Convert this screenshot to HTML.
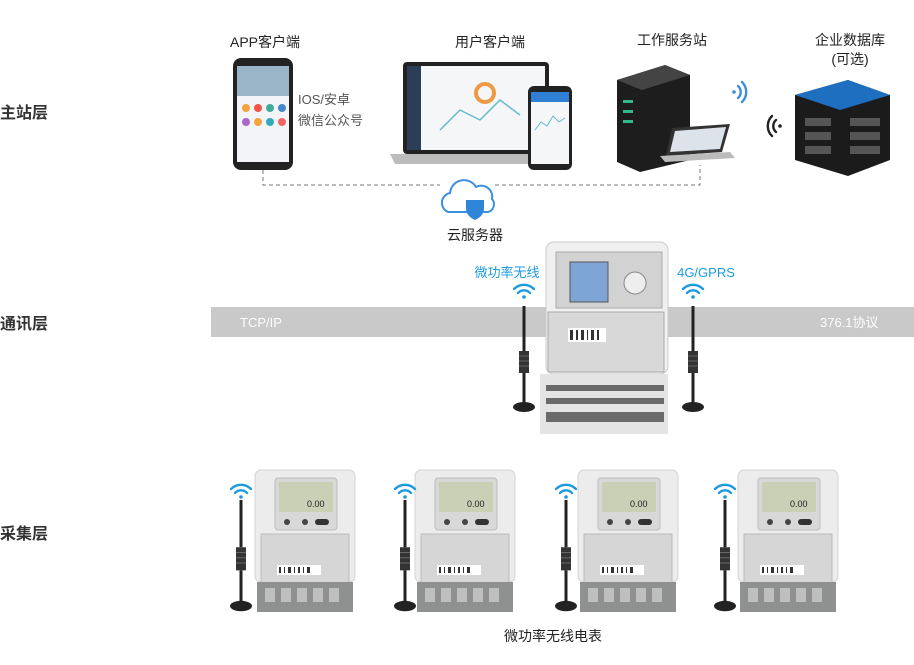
<!DOCTYPE html>
<html><head><meta charset="utf-8"><style>
body{margin:0;width:914px;height:660px;background:#fff;font-family:"Liberation Sans","Noto Sans CJK SC",sans-serif;overflow:hidden}
svg text{font-family:"Liberation Sans","Noto Sans CJK SC",sans-serif}
</style></head><body>
<svg width="914" height="660" xmlns="http://www.w3.org/2000/svg">
<defs>
<g id="wifi" fill="none" stroke-width="2.4" stroke-linecap="round">
<path d="M-10,-4 A14,14 0 0 1 10,-4"/><path d="M-6,0 A8,8 0 0 1 6,0"/><circle cx="0" cy="4" r="1.8" fill="currentColor" stroke="none"/>
</g>
<g id="ant">
<rect x="-1.5" y="0" width="3" height="45" fill="#222"/>
<rect x="-5" y="45" width="10" height="22" fill="#333"/>
<g stroke="#666" stroke-width="1"><line x1="-5" y1="50" x2="5" y2="50"/><line x1="-5" y1="55" x2="5" y2="55"/><line x1="-5" y1="60" x2="5" y2="60"/></g>
<rect x="-1.5" y="67" width="3" height="30" fill="#222"/>
<ellipse cx="0" cy="101" rx="11" ry="5" fill="#222"/>
</g>
<g id="meter">
<rect x="0" y="0" width="100" height="112" rx="6" fill="#ececec" stroke="#d4d4d4"/>
<rect x="20" y="8" width="62" height="52" rx="3" fill="#d8d8d8" stroke="#bbb"/>
<rect x="24" y="12" width="54" height="30" fill="#c9d0b5"/>
<text x="52" y="37" font-size="9" fill="#222">0.00</text>
<circle cx="32" cy="52" r="3" fill="#444"/><circle cx="50" cy="52" r="3" fill="#444"/><rect x="60" y="49" width="14" height="6" rx="3" fill="#333"/>
<rect x="6" y="64" width="88" height="50" fill="#d6d6d6" stroke="#bbb"/>
<rect x="22" y="95" width="44" height="10" fill="#fff"/>
<g fill="#333"><rect x="24" y="97" width="2" height="6"/><rect x="29" y="97" width="1" height="6"/><rect x="33" y="97" width="3" height="6"/><rect x="39" y="97" width="1" height="6"/><rect x="43" y="97" width="2" height="6"/><rect x="48" y="97" width="1" height="6"/><rect x="52" y="97" width="3" height="6"/></g>
<rect x="2" y="112" width="96" height="30" fill="#8f9191"/>
<g fill="#bfbfbf"><rect x="10" y="118" width="10" height="14"/><rect x="26" y="118" width="10" height="14"/><rect x="42" y="118" width="10" height="14"/><rect x="58" y="118" width="10" height="14"/><rect x="74" y="118" width="10" height="14"/></g>
</g>
</defs>
<!-- layer labels -->
<text x="0" y="118" font-size="16" font-weight="bold" fill="#333">主站层</text>
<text x="0" y="329" font-size="16" font-weight="bold" fill="#333">通讯层</text>
<text x="0" y="539" font-size="16" font-weight="bold" fill="#333">采集层</text>
<!-- band -->
<rect x="211" y="307" width="703" height="30" fill="#c9c9c9"/>
<text x="240" y="327" font-size="13" fill="#fff">TCP/IP</text>
<text x="820" y="327" font-size="13" fill="#fff">376.1协议</text>
<!-- top titles -->
<text x="265" y="47" font-size="14" fill="#222" text-anchor="middle">APP客户端</text>
<text x="490" y="47" font-size="14" fill="#222" text-anchor="middle">用户客户端</text>
<text x="672" y="45" font-size="14" fill="#222" text-anchor="middle">工作服务站</text>
<text x="850" y="45" font-size="14" fill="#222" text-anchor="middle">企业数据库</text>
<text x="850" y="64" font-size="14" fill="#222" text-anchor="middle">(可选)</text>
<text x="298" y="104" font-size="13" fill="#555">IOS/安卓</text>
<text x="298" y="125" font-size="13" fill="#555">微信公众号</text>
<!-- dashed -->
<path d="M263,170 V185 H440 M495,185 H700 V165" fill="none" stroke="#777" stroke-dasharray="4,3"/>
<!-- phone -->
<rect x="233" y="58" width="60" height="112" rx="8" fill="#222"/>
<rect x="237" y="66" width="52" height="96" fill="#f2f4f7"/>
<rect x="237" y="66" width="52" height="30" fill="#9ab4c8"/>
<g fill="#f4a23c"><circle cx="246" cy="108" r="4"/><circle cx="258" cy="108" r="4" fill="#e54"/><circle cx="270" cy="108" r="4" fill="#4a9"/><circle cx="282" cy="108" r="4" fill="#48c"/><circle cx="246" cy="122" r="4" fill="#a6c"/><circle cx="258" cy="122" r="4"/><circle cx="270" cy="122" r="4" fill="#3ab"/><circle cx="282" cy="122" r="4" fill="#e66"/></g>
<!-- laptop -->
<rect x="403" y="62" width="146" height="92" rx="4" fill="#222"/>
<rect x="407" y="66" width="138" height="84" fill="#f4f6f8"/>
<rect x="407" y="66" width="14" height="84" fill="#2c3e55"/>
<path d="M440,130 L460,110 L480,120 L500,100 L520,115" fill="none" stroke="#6bc" stroke-width="1.5"/>
<circle cx="485" cy="93" r="9" fill="none" stroke="#e94" stroke-width="4"/>
<path d="M390,154 H560 L555,164 H395 Z" fill="#bcbcbc"/>
<rect x="528" y="86" width="44" height="84" rx="6" fill="#222"/>
<rect x="531" y="92" width="38" height="72" fill="#f4f6f8"/>
<rect x="531" y="92" width="38" height="10" fill="#2f7fd5"/>
<path d="M535,130 l6,-8 6,4 6,-10 6,6 6,-4" fill="none" stroke="#6bc"/>
<!-- server -->
<path d="M617,80 L665,65 L690,75 L690,160 L640,172 L617,162 Z" fill="#1d1d1d"/>
<path d="M617,80 L665,65 L690,75 L642,90 Z" fill="#444"/>
<g fill="#2fb98a"><rect x="623" y="100" width="10" height="3"/><rect x="623" y="110" width="10" height="3"/><rect x="623" y="120" width="10" height="3"/></g>
<path d="M672,128 L730,124 L722,152 L666,156 Z" fill="#333"/>
<path d="M675,131 L726,127 L720,149 L670,152 Z" fill="#dce3ea"/>
<path d="M660,156 L730,152 L735,158 L665,162 Z" fill="#bbb"/>
<use href="#wifi" x="738" y="92" transform="rotate(90 738 92)" stroke="#3a8fe0" color="#3a8fe0"/>
<use href="#wifi" x="776" y="126" transform="rotate(-90 776 126)" stroke="#222" color="#222"/>
<!-- DB -->
<path d="M795,95 L848,80 L890,95 L890,160 L848,176 L795,160 Z" fill="#1b1b1b"/>
<path d="M795,95 L848,80 L890,95 L840,110 Z" fill="#1f6fc0"/>
<g fill="#555"><rect x="805" y="118" width="26" height="8"/><rect x="805" y="132" width="26" height="8"/><rect x="805" y="146" width="26" height="8"/><rect x="850" y="118" width="30" height="8"/><rect x="850" y="132" width="30" height="8"/><rect x="850" y="146" width="30" height="8"/></g>
<!-- cloud -->
<path d="M448,212 a10,10 0 0 1 2,-19 a14,14 0 0 1 26,-6 a11,11 0 0 1 16,12 a8,8 0 0 1 -4,13 Z" fill="#fff" stroke="#3a8fe0" stroke-width="2"/>
<path d="M466,200 h18 v8 q0,8 -9,12 q-9,-4 -9,-12 Z" fill="#2f86d8"/>
<text x="475" y="240" font-size="14" fill="#222" text-anchor="middle">云服务器</text>
<!-- concentrator -->
<text x="507" y="277" font-size="13" fill="#1a9be0" text-anchor="middle">微功率无线</text>
<text x="706" y="277" font-size="13" fill="#1a9be0" text-anchor="middle">4G/GPRS</text>
<use href="#wifi" x="524" y="293" stroke="#1a9be0" color="#1a9be0"/>
<use href="#wifi" x="693" y="293" stroke="#1a9be0" color="#1a9be0"/>
<rect x="546" y="242" width="122" height="132" rx="8" fill="#f0f0f0" stroke="#ccc"/>
<rect x="556" y="252" width="106" height="56" fill="#d2d2d2" stroke="#aaa"/>
<rect x="570" y="262" width="38" height="40" fill="#7ea5d6" stroke="#555"/>
<circle cx="635" cy="283" r="11" fill="#eee" stroke="#888"/>
<rect x="548" y="312" width="116" height="60" fill="#d8d8d8" stroke="#aaa"/>
<rect x="568" y="328" width="38" height="14" fill="#fff"/>
<g fill="#333"><rect x="570" y="330" width="3" height="10"/><rect x="576" y="330" width="2" height="10"/><rect x="581" y="330" width="3" height="10"/><rect x="587" y="330" width="1" height="10"/><rect x="591" y="330" width="3" height="10"/><rect x="597" y="330" width="2" height="10"/></g>
<rect x="540" y="374" width="128" height="60" fill="#e4e4e4"/>
<g fill="#6a6a6a"><rect x="546" y="385" width="118" height="6"/><rect x="546" y="398" width="118" height="6"/><rect x="546" y="412" width="118" height="10"/></g>
<use href="#ant" x="524" y="306"/>
<use href="#ant" x="693" y="306"/>
<!-- meters -->
<g transform="translate(255,470)"><use href="#meter"/></g>
<g transform="translate(415,470)"><use href="#meter"/></g>
<g transform="translate(578,470)"><use href="#meter"/></g>
<g transform="translate(738,470)"><use href="#meter"/></g>
<g transform="translate(241,500) scale(1,1.05)"><use href="#ant"/></g>
<g transform="translate(405,500) scale(1,1.05)"><use href="#ant"/></g>
<g transform="translate(566,500) scale(1,1.05)"><use href="#ant"/></g>
<g transform="translate(725,500) scale(1,1.05)"><use href="#ant"/></g>
<use href="#wifi" x="241" y="493" stroke="#1a9be0" color="#1a9be0"/>
<use href="#wifi" x="405" y="493" stroke="#1a9be0" color="#1a9be0"/>
<use href="#wifi" x="566" y="493" stroke="#1a9be0" color="#1a9be0"/>
<use href="#wifi" x="725" y="493" stroke="#1a9be0" color="#1a9be0"/>
<text x="553" y="641" font-size="14" fill="#222" text-anchor="middle">微功率无线电表</text>
</svg>
</body></html>
